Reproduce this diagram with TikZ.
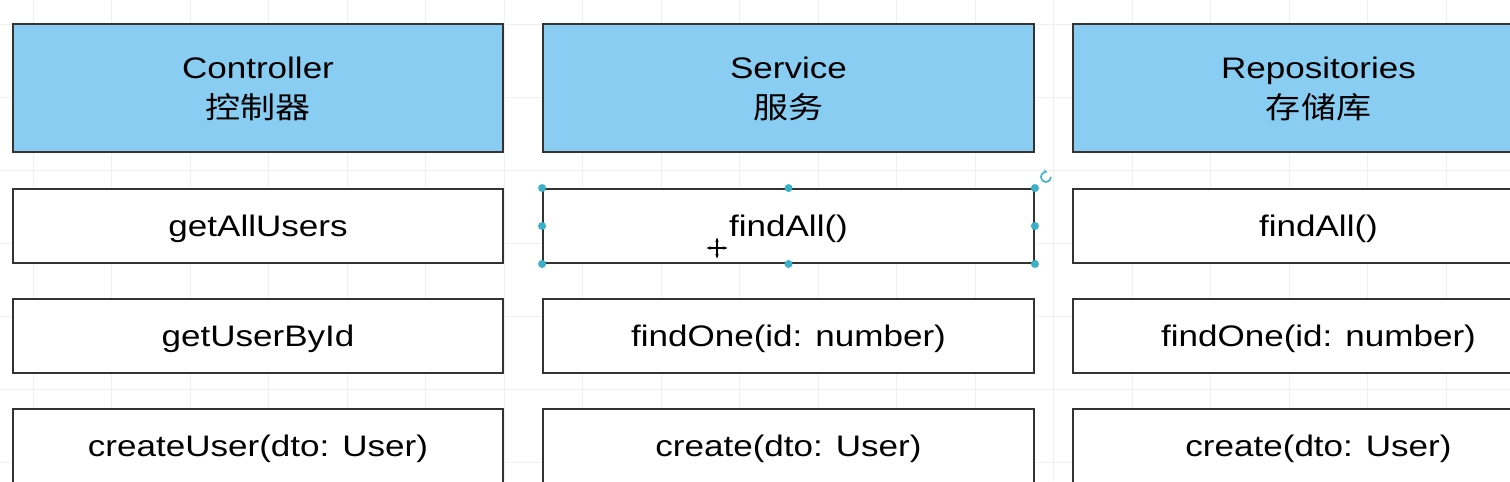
\documentclass[tikz,border=0pt]{standalone}
\usepackage{fontspec}
\setmainfont[FakeStretch=1.18]{Liberation Sans}
\newfontfamily\cjk[FakeStretch=1.18]{Noto Sans CJK SC}
\usetikzlibrary{arrows.meta}
\definecolor{headblue}{RGB}{137,205,242}
\definecolor{boxline}{RGB}{51,51,51}
\definecolor{handle}{RGB}{58,176,201}
\definecolor{gridgray}{RGB}{240,240,240}
\tikzset{
  box/.style={draw=boxline,line width=1.1pt,fill=white,minimum width=9.82cm,
    minimum height=1.48cm,align=center,inner sep=0pt,text depth=0pt,
    font=\fontsize{16.9pt}{22.5pt}\selectfont},
  head/.style={box,fill=headblue,minimum height=2.56cm}
}
\begin{document}
\begin{tikzpicture}[x=0.02cm,y=-0.02cm]

      \useasboundingbox (0,0) rectangle (1510,481);
      \clip (0,0) rectangle (1510,481);
      \fill[white] (0,0) rectangle (1510,481);
      \foreach \gx in {33,111.5,...,1510} \draw[gridgray,line width=.4pt] (\gx,0) -- (\gx,481);
      \foreach \gy in {24,97,...,481} \draw[gridgray,line width=.4pt] (0,\gy) -- (1510,\gy);

      \path (258,88)    node[head] (ctrl)  {Controller\\{\cjk 控制器}};
      \path (788.5,88)  node[head] (svc)   {Service\\{\cjk 服务}};
      \path (1318.5,88) node[head] (repo)  {Repositories\\{\cjk 存储库}};

      \path (258,226)    node[box] (ctrl1) {getAllUsers};
      \path (788.5,226)  node[box] (svc1)  {findAll()};
      \path (1318.5,226) node[box] (repo1) {findAll()};

      \path (258,336)    node[box] (ctrl2) {getUserById};
      \path (788.5,336)  node[box] (svc2)  {findOne(id: number)};
      \path (1318.5,336) node[box] (repo2) {findOne(id: number)};

      \path (258,446)    node[box] (ctrl3) {createUser(dto: User)};
      \path (788.5,446)  node[box] (svc3)  {create(dto: User)};
      \path (1318.5,446) node[box] (repo3) {create(dto: User)};

      \foreach \a in {north west,north,north east,east,south east,south,south west,west}
        \fill[handle] (svc1.\a) circle (4);
      \draw[handle,line width=.9pt,-{Stealth[length=2.5pt]}]
        ([shift={(16,-11)}]svc1.north east) arc[start angle=0,end angle=290,radius=5];

      \coordinate (cursor) at (717,248);
      \draw[{Stealth[length=2.5pt]}-{Stealth[length=2.5pt]},line width=.6pt]
        ([xshift=-6]cursor) -- ([xshift=6]cursor);
      \draw[{Stealth[length=2.5pt]}-{Stealth[length=2.5pt]},line width=.6pt]
        ([yshift=-6]cursor) -- ([yshift=6]cursor);
   \end{tikzpicture}
\end{document}
